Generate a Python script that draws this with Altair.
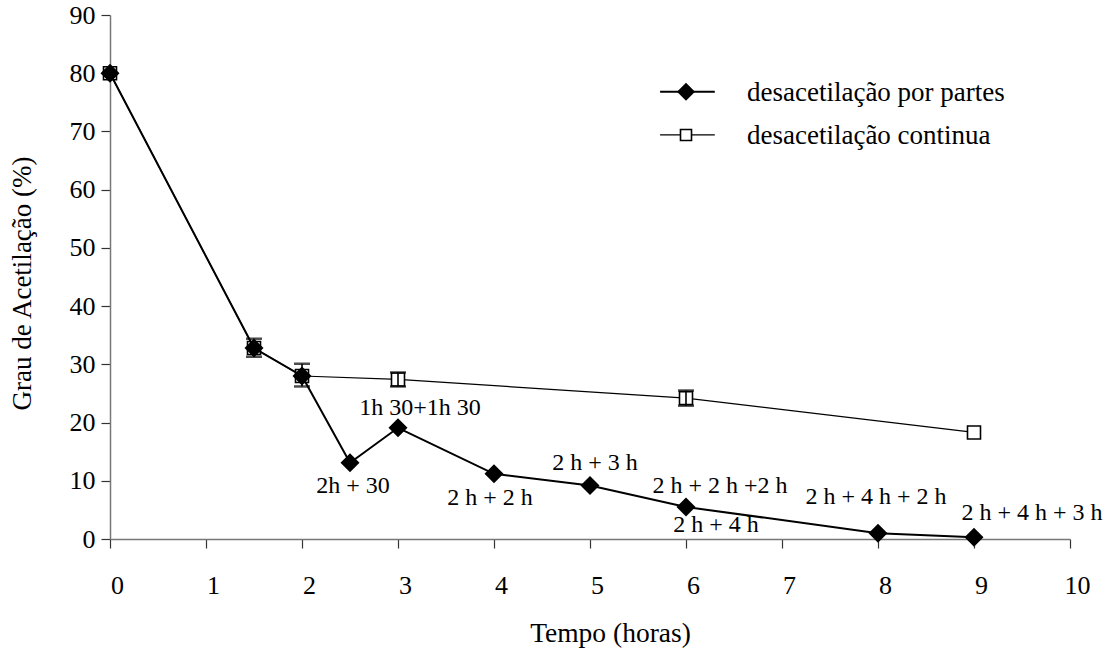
import altair as alt
import pandas as pd

# ---- data ----
parts_t = [0, 1.5, 2, 2.5, 3, 4, 5, 6, 8, 9]
parts_v = [80, 32.8, 28.0, 13.1, 19.1, 11.2, 9.2, 5.5, 1.0, 0.3]

cont_t = [0, 1.5, 2, 3, 6, 9]
cont_v = [80, 32.8, 28.0, 27.4, 24.2, 18.3]

err_t = [1.5, 2, 3, 6]
err_lo = [31.3, 26.2, 26.2, 22.9]
err_hi = [34.4, 30.1, 28.6, 25.5]

ann_labels = ["2h + 30", "1h 30+1h 30", "2 h + 2 h", "2 h + 3 h",
              "2 h + 2 h +2 h", "2 h + 4 h", "2 h + 4 h + 2 h", "2 h + 4 h + 3 h"]
ann_t = [2.5, 3, 4, 5, 6, 6, 8, 9]
# pixel offsets of each label from its point
ann_dx = [3, 22, -4, 5, 34, 30, -2, 58]
ann_dy = [23, -20, 24, -22, -21, 18, -36, -24]

x_ticks = list(range(0, 11))
y_ticks = list(range(0, 91, 10))

leg_labels = ["desacetilação por partes", "desacetilação continua"]

FONT = "'Liberation Serif', 'Times New Roman', serif"

parts = pd.DataFrame({"t": parts_t, "v": parts_v})
cont = pd.DataFrame({"t": cont_t, "v": cont_v})
err = pd.DataFrame({"t": err_t, "lo": err_lo, "hi": err_hi})

xs = alt.Scale(domain=[0, 10], nice=False, zero=False)
ys = alt.Scale(domain=[0, 90], nice=False)

x_axis = alt.Axis(values=x_ticks, format="d", tickSize=9, labelPadding=24, labelOffset=7,
                  labelFlush=False,
                  labelFontSize=26, labelFont=FONT, labelColor="black",
                  title="Tempo (horas)", titleFontSize=27.5, titleFont=FONT,
                  titleFontWeight="normal", titleColor="black", titlePadding=21,
                  titleX=500, grid=False, domainColor="#777", domainWidth=1.5,
                  tickColor="#333", tickWidth=1.2)
y_axis = alt.Axis(values=y_ticks, format="d", tickSize=9, labelPadding=6,
                  labelFlush=False,
                  labelFontSize=26, labelFont=FONT, labelColor="black",
                  title="Grau de Acetilação (%)", titleFontSize=27, titleFont=FONT,
                  titleFontWeight="normal", titleColor="black", titlePadding=33,
                  titleY=268, grid=False, domainColor="#777", domainWidth=1.5,
                  tickColor="#333", tickWidth=1.2)

X = alt.X("t:Q", scale=xs, axis=x_axis)
Y = alt.Y("v:Q", scale=ys, axis=y_axis)

cont_line = alt.Chart(cont).mark_line(color="black", strokeWidth=1.2).encode(x=X, y=Y)
cont_pts = alt.Chart(cont).mark_point(shape="square", size=169, filled=True,
                                      fill="white", stroke="black", strokeWidth=1.6,
                                      opacity=1).encode(x=X, y=Y)

err_rule = alt.Chart(err).mark_rule(color="black", strokeWidth=1.6).encode(
    x=alt.X("t:Q", scale=xs), y=alt.Y("lo:Q", scale=ys), y2="hi:Q")
err_top = alt.Chart(err).mark_tick(color="black", orient="horizontal", size=16,
                                   thickness=2.5).encode(
    x=alt.X("t:Q", scale=xs), y=alt.Y("hi:Q", scale=ys))
err_bot = alt.Chart(err).mark_tick(color="black", orient="horizontal", size=16,
                                   thickness=2.5).encode(
    x=alt.X("t:Q", scale=xs), y=alt.Y("lo:Q", scale=ys))

parts_line = alt.Chart(parts).mark_line(color="black", strokeWidth=2).encode(x=X, y=Y)
parts_pts = alt.Chart(parts).mark_point(shape="diamond", size=361, filled=True,
                                        color="black", opacity=1).encode(x=X, y=Y)

layers = [cont_line, cont_pts, err_rule, err_top, err_bot, parts_line, parts_pts]

lookup = dict(zip(parts_t, parts_v))
for lab, t, dx, dy in zip(ann_labels, ann_t, ann_dx, ann_dy):
    d = pd.DataFrame({"t": [t], "v": [lookup[t]], "label": [lab]})
    layers.append(
        alt.Chart(d).mark_text(font=FONT, fontSize=24, color="black", dx=dx, dy=dy,
                               baseline="middle", align="center").encode(
            x=alt.X("t:Q", scale=xs), y=alt.Y("v:Q", scale=ys), text="label:N"))

# ---- legend (placed in data space, upper right) ----
LEG_X0, LEG_X1, LEG_XS, LEG_XT = 5.73, 6.30, 6.0, 6.635
LEG_Y = [76.8, 69.4]
leg = pd.DataFrame({"x0": [LEG_X0] * 2, "x1": [LEG_X1] * 2, "xs": [LEG_XS] * 2,
                    "xt": [LEG_XT] * 2, "y": LEG_Y, "label": leg_labels})
leg1 = leg.iloc[[0]]
leg2 = leg.iloc[[1]]
layers += [
    alt.Chart(leg1).mark_rule(color="black", strokeWidth=2).encode(
        x=alt.X("x0:Q", scale=xs), x2="x1:Q", y=alt.Y("y:Q", scale=ys)),
    alt.Chart(leg1).mark_point(shape="diamond", size=324, filled=True, color="black",
                               opacity=1).encode(
        x=alt.X("xs:Q", scale=xs), y=alt.Y("y:Q", scale=ys)),
    alt.Chart(leg2).mark_rule(color="black", strokeWidth=1.2).encode(
        x=alt.X("x0:Q", scale=xs), x2="x1:Q", y=alt.Y("y:Q", scale=ys)),
    alt.Chart(leg2).mark_point(shape="square", size=121, filled=True, fill="white",
                               stroke="black", strokeWidth=1.6, opacity=1).encode(
        x=alt.X("xs:Q", scale=xs), y=alt.Y("y:Q", scale=ys)),
    alt.Chart(leg).mark_text(font=FONT, fontSize=27, color="black", align="left",
                             baseline="alphabetic", dy=9).encode(
        x=alt.X("xt:Q", scale=xs), y=alt.Y("y:Q", scale=ys), text="label:N"),
]

chart = alt.layer(*layers).properties(
    width=960, height=524,
    autosize=alt.AutoSizeParams(type="none"),
    padding={"left": 110, "top": 15, "right": 47, "bottom": 116},
    background="white",
).configure_view(stroke=None)

chart.save("out.html", embed_options={"renderer": "svg", "actions": False})
